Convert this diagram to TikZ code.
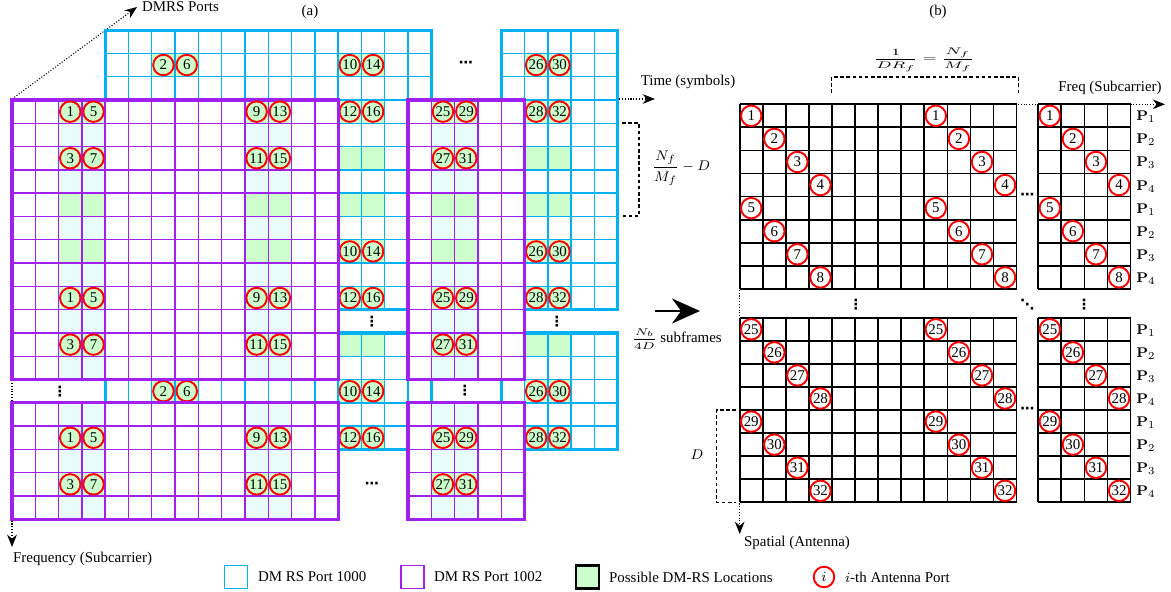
\documentclass[tikz,border=0pt]{standalone}
\usepackage{graphicx}
\usepackage[no-math]{fontspec}
\setmainfont{Liberation Serif}
\newfontfamily\dotsfont{DejaVu Sans}
\usetikzlibrary{calc,arrows.meta}
\definecolor{pblue}{RGB}{0,176,240}
\definecolor{ppurple}{RGB}{160,32,240}
\definecolor{dgreen}{RGB}{204,255,204}
\definecolor{dcyan}{RGB}{232,252,252}
\begin{document}
\begin{tikzpicture}[x=0.02cm,y=-0.02cm,font=\fontsize{8.5}{10}\selectfont]
\tikzstyle{port}=[circle,draw=red,line width=1.1pt,minimum size=0.41cm,inner sep=0pt]
\tikzstyle{bthin}=[draw=pblue,line width=0.8pt]
\tikzstyle{pthin}=[draw=ppurple,line width=0.8pt]
\tikzstyle{bthick}=[draw=pblue,line width=1.8pt]
\tikzstyle{pthick}=[draw=ppurple,line width=1.8pt]
\tikzstyle{gline}=[draw=black,line width=1pt]
\tikzstyle{axisline}=[densely dotted,line width=0.6pt,-{Stealth[length=7pt,width=5.5pt]}]
\tikzstyle{dbracket}=[dash pattern=on 2pt off 1.5pt,line width=0.6pt]
\tikzstyle{lbl}=[inner sep=1pt]
\tikzstyle{dts}=[inner sep=0.5pt,font=\dotsfont\bfseries\fontsize{8}{9}\selectfont]
\useasboundingbox (0,0) rectangle (1171,592);

\coordinate (ao) at (12,99);
\coordinate (atime) at (655,99);
\coordinate (afreq) at (12,547);
\coordinate (aport) at (137,7);
\draw[axisline] (ao) -- (atime);
\draw[axisline] (ao) -- (afreq);
\draw[axisline] (ao) -- (aport);

% DM RS port 1000
\begin{scope}[shift={(105.2,30.1)},x=0.466cm,y=-0.466cm]
\foreach \xa/\xb/\ya/\yb in {0/14/0/12,17/22/0/12,0/14/13/18,17/22/13/18}
  \fill[white] (\xa,\ya) rectangle (\xb,\yb);
\foreach \c in {2,3,10,11,18,19}
  \foreach \r in {1,3,5,7,9,11,13,15,17}
    \fill[dgreen] (\c,\r) rectangle +(1,1);
\foreach \xa/\xb/\ya/\yb in {0/14/0/12,17/22/0/12,0/14/13/18,17/22/13/18}{
  \foreach \c in {\xa,...,\xb} \draw[bthin] (\c,\ya) -- (\c,\yb);
  \foreach \r in {\ya,...,\yb} \draw[bthin] (\xa,\r) -- (\xb,\r);
  \draw[bthick] (\xa,\ya) rectangle (\xb,\yb);
}
\foreach \r in {1,9,15}
  \foreach \c/\n in {2/2,3/6,10/10,11/14,18/26,19/30}
    \node[port] (b\n-\r) at (\c+0.5,\r+0.5) {\n};
\foreach \r in {3,11,17}
  \foreach \c/\n in {2/4,3/8,10/12,11/16,18/28,19/32}
    \node[port] (b\n-\r) at (\c+0.5,\r+0.5) {\n};
\end{scope}

% DM RS port 1002
\begin{scope}[shift={(12,100)},x=0.466cm,y=-0.466cm]
\foreach \xa/\xb/\ya/\yb in {0/14/0/12,17/22/0/12,0/14/13/18,17/22/13/18}
  \fill[white] (\xa,\ya) rectangle (\xb,\yb);
\foreach \c in {2,3,10,11,18,19}
  \foreach \ya/\yb in {0/12,13/18}
    \fill[dcyan] (\c,\ya) rectangle (\c+1,\yb);
\foreach \c in {2,3,10,11,18,19}
  \foreach \r in {0,2,4,6,8,10,14,16}
    \fill[dgreen] (\c,\r) rectangle +(1,1);
\foreach \xa/\xb/\ya/\yb in {0/14/0/12,17/22/0/12,0/14/13/18,17/22/13/18}{
  \foreach \c in {\xa,...,\xb} \draw[pthin] (\c,\ya) -- (\c,\yb);
  \foreach \r in {\ya,...,\yb} \draw[pthin] (\xa,\r) -- (\xb,\r);
  \draw[pthick] (\xa,\ya) rectangle (\xb,\yb);
}
\foreach \r in {0,8,14}
  \foreach \c/\n in {2/1,3/5,10/9,11/13,18/25,19/29}
    \node[port] (p\n-\r) at (\c+0.5,\r+0.5) {\n};
\foreach \r in {2,10,16}
  \foreach \c/\n in {2/3,3/7,10/11,11/15,18/27,19/31}
    \node[port] (p\n-\r) at (\c+0.5,\r+0.5) {\n};
\end{scope}

\node[dts] (hd1) at (466,64) {⋯};
\node[dts] (hd2) at (372,485) {⋯};
\node[dts] (vd1) at (60,392) {⋮};
\node[dts] (vd2) at (465,391) {⋮};
\node[dts] (vd3) at (372,322) {⋮};
\node[dts] (vd4) at (557,322) {⋮};

\node[lbl,anchor=west] (ports) at (140,7) {DMRS Ports};
\node[lbl] (capa) at (310,12) {(a)};
\node[lbl] (capb) at (938,12) {(b)};
\node[lbl] (time) at (688,82) {Time (symbols)};
\node[lbl,anchor=west] (freq) at (11,559) {Frequency (Subcarrier)};

\coordinate (k1) at (622,123);
\coordinate (k2) at (639,123);
\coordinate (k3) at (639,216);
\coordinate (k4) at (622,216);
\draw[dbracket] (k1) -- (k2) -- (k3) -- (k4);
\node[lbl] (nfd) at (681,168) {$\displaystyle\frac{N_f}{M_f}-D$};

\coordinate (big1) at (655,311);
\coordinate (big2) at (700,311);
\draw[line width=1.1pt,-{Stealth[length=0.56cm,width=0.5cm]}] (big1) -- (big2);
\node[lbl] (nb) at (677,339) {\scalebox{1}[0.7]{$\displaystyle\frac{N_b}{4D}$}\ subframes};

% spatial / frequency grid
\coordinate (bo) at (739.7,104.3);
\coordinate (bfreq) at (1165,104.3);
\coordinate (bspat) at (739.7,534);
\draw[axisline] (bo) -- (bfreq);
\draw[axisline] (bo) -- (bspat);
\begin{scope}[shift={(739.7,104.3)},x=0.4616cm,y=-0.4616cm]
\foreach \xo/\nc/\yo in {0/12/0,12.94/4/0,0/12/9.25,12.94/4/9.25}{
  \fill[white] (\xo,\yo) rectangle (\xo+\nc,\yo+8);
  \foreach \c in {0,...,\nc} \draw[gline] (\xo+\c,\yo) -- (\xo+\c,\yo+8);
  \foreach \r in {0,...,8} \draw[gline] (\xo,\yo+\r) -- (\xo+\nc,\yo+\r);
}
\foreach \k in {0,...,7}{
  \pgfmathtruncatemacro\m{mod(\k,4)}
  \pgfmathtruncatemacro\u{\k+1}
  \pgfmathtruncatemacro\v{\k+25}
  \pgfmathtruncatemacro\p{\m+1}
  \node[port] (u\u-a) at (\m+0.5,\k+0.5) {\u};
  \node[port] (u\u-b) at (\m+8.5,\k+0.5) {\u};
  \node[port] (u\u-c) at (\m+13.44,\k+0.5) {\u};
  \node[port] (v\v-a) at (\m+0.5,\k+9.75) {\v};
  \node[port] (v\v-b) at (\m+8.5,\k+9.75) {\v};
  \node[port] (v\v-c) at (\m+13.44,\k+9.75) {\v};
  \node[lbl] (pu\k) at (17.6,\k+0.55) {$\mathbf{P}_{\p}$};
  \node[lbl] (pv\k) at (17.6,\k+9.8) {$\mathbf{P}_{\p}$};
}
\node[dts] (hd3) at (12.47,4) {⋯};
\node[dts] (hd4) at (12.47,13.25) {⋯};
\node[dts] (vd5) at (5.04,8.7) {⋮};
\node[dts] (dd1) at (12.47,8.7) {⋱};
\node[dts] (vd6) at (14.93,8.7) {⋮};
\end{scope}

\coordinate (f1) at (831.7,93);
\coordinate (f2) at (831.7,77);
\coordinate (f3) at (1018.3,77);
\coordinate (f4) at (1018.3,93);
\draw[dbracket] (f1) -- (f2) -- (f3) -- (f4);
\node[lbl] (drf) at (924,60) {\scalebox{1.2}[0.68]{$\displaystyle\frac{1}{DR_f}=\frac{N_f}{M_f}$}};
\node[lbl] (fqs) at (1110,88) {Freq (Subcarrier)};

\coordinate (d1) at (736,410);
\coordinate (d2) at (716.7,410);
\coordinate (d3) at (716.7,502.3);
\coordinate (d4) at (736,502.3);
\draw[dbracket] (d1) -- (d2) -- (d3) -- (d4);
\node[lbl] (dl) at (697,455) {$D$};
\node[lbl,anchor=west] (spat) at (742,543) {Spatial (Antenna)};

% legend
\node[draw=pblue,line width=1pt,minimum size=0.46cm] (lg1) at (236,577) {};
\node[lbl,anchor=west] (lt1) at (256,577) {DM RS Port 1000};
\node[draw=ppurple,line width=1pt,minimum size=0.46cm] (lg2) at (412.5,577) {};
\node[lbl,anchor=west] (lt2) at (432,577) {DM RS Port 1002};
\node[draw=black,fill=dgreen,line width=1.3pt,minimum size=0.46cm] (lg3) at (587.5,577) {};
\node[lbl,anchor=west] (lt3) at (607,577) {Possible DM-RS Locations};
\node[port] (lg4) at (824,577) {$i$};
\node[lbl,anchor=west] (lt4) at (843,577) {$i$-th Antenna Port};
\end{tikzpicture}
\end{document}
